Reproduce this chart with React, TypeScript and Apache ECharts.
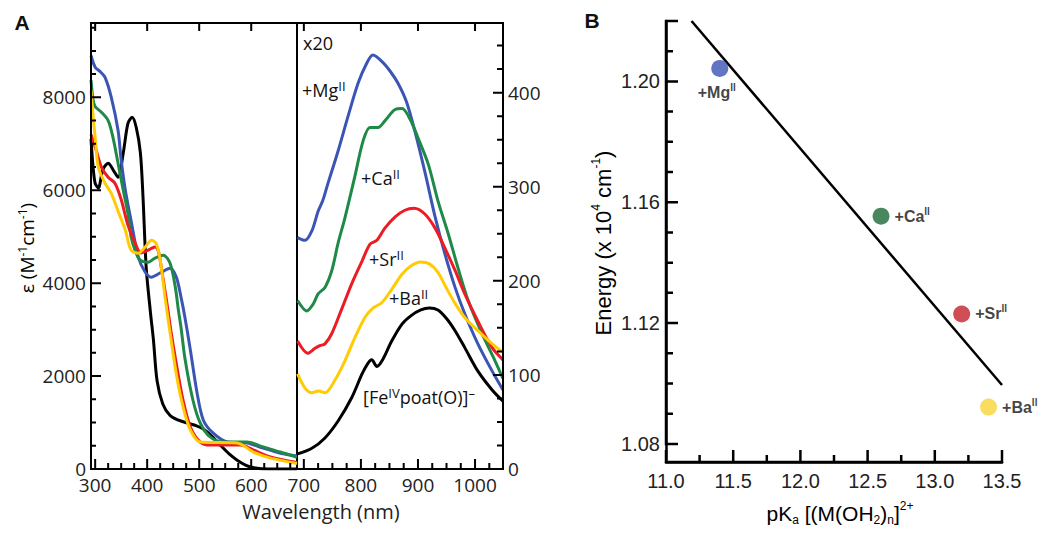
import React, { useEffect, useRef } from "react";
import * as echarts from "echarts";

// ---------- Panel A, left sub-plot (UV region), ε / M^-1 cm^-1 ----------
const UV_FE: [number, number][] = [
  [292, 7100], [296, 6500], [300, 6150], [306, 6050], [315, 6450], [325, 6580], [335, 6430],
  [344, 6280], [354, 6800], [363, 7440], [371, 7570], [379, 7350], [387, 6800], [392, 5850],
  [398, 4350], [406, 3400], [412, 2780], [419, 1900], [430, 1400], [444, 1150], [460, 1050],
  [477, 990], [495, 930], [508, 860], [525, 700], [540, 520], [557, 330], [573, 190],
  [590, 80], [605, 25], [620, 5], [650, 0], [688, 0],
];
const UV_MG: [number, number][] = [
  [292, 8900], [300, 8650], [310, 8550], [319, 8430], [331, 8000], [344, 7290], [350, 6650],
  [358, 6000], [369, 5350], [383, 4560], [396, 4240], [408, 4130], [425, 4220], [444, 4320],
  [456, 4130], [465, 3700], [472, 3300], [483, 2560], [496, 1630], [508, 1050], [527, 770],
  [554, 580], [592, 560], [623, 450], [656, 340], [688, 280],
];
const UV_CA: [number, number][] = [
  [292, 8370], [296, 7950], [300, 7800], [312, 7680], [325, 7500], [334, 7150], [344, 6580],
  [354, 6000], [363, 5500], [369, 5000], [377, 4700], [386, 4500], [402, 4450], [415, 4540],
  [431, 4600], [444, 4430], [454, 3920], [460, 3420], [465, 3050], [473, 2350], [488, 1480],
  [502, 990], [521, 690], [546, 580], [592, 580], [623, 475], [656, 365], [688, 250],
];
const UV_SR: [number, number][] = [
  [292, 7200], [302, 6860], [312, 6500], [325, 6280], [338, 6150], [350, 5800], [363, 5250],
  [377, 4860], [388, 4650], [402, 4710], [415, 4780], [421, 4710], [427, 4350], [437, 3640],
  [446, 2950], [457, 2200], [469, 1480], [483, 905], [502, 580], [521, 515], [579, 515],
  [604, 410], [637, 260], [688, 140],
];
const UV_BA: [number, number][] = [
  [292, 8150], [296, 7600], [300, 7140], [306, 6500], [319, 6150], [331, 5935], [344, 5550],
  [358, 5140], [369, 4710], [383, 4645], [396, 4775], [408, 4925], [417, 4860], [425, 4500],
  [435, 3640], [444, 2930], [457, 1980], [469, 1335], [483, 840], [502, 580], [573, 560],
  [604, 365], [637, 235], [688, 120],
];

// ---------- Panel A, right sub-plot (visible region, x20 scale) ----------
const VIS_FE: [number, number][] = [
  [689, 16], [714, 22], [737, 33], [760, 51], [784, 76], [802, 101], [812, 112], [819, 116],
  [828, 109], [837, 115], [854, 136], [872, 154], [888, 163], [905, 169], [920, 171],
  [935, 169], [950, 160], [965, 147], [982, 129], [1005, 104], [1030, 84], [1049, 72],
];
const VIS_MG: [number, number][] = [
  [689, 246], [702, 243], [714, 253], [725, 274], [733, 285], [742, 303], [760, 338],
  [777, 374], [795, 410], [810, 431], [821, 440], [837, 433], [851, 423], [865, 410],
  [880, 390], [895, 358], [912, 316], [930, 268], [947, 229], [965, 193], [982, 165],
  [1005, 133], [1030, 104], [1049, 84],
];
const VIS_CA: [number, number][] = [
  [689, 179], [705, 168], [716, 175], [725, 186], [737, 193], [749, 211], [760, 240],
  [772, 267], [789, 310], [804, 349], [816, 363], [830, 363], [842, 370], [860, 382],
  [872, 383], [886, 372], [900, 352], [918, 324], [935, 285], [953, 250], [970, 214],
  [988, 179], [1012, 144], [1035, 115], [1049, 96],
];
const VIS_SR: [number, number][] = [
  [689, 136], [707, 123], [719, 128], [728, 131], [737, 133], [749, 144], [767, 171],
  [784, 197], [802, 221], [816, 239], [828, 243], [842, 256], [860, 268], [877, 275],
  [893, 277], [912, 271], [930, 256], [947, 235], [965, 211], [982, 186], [1005, 157],
  [1030, 129], [1049, 116],
];
const VIS_BA: [number, number][] = [
  [689, 101], [702, 86], [714, 81], [725, 83], [737, 81], [754, 94], [772, 115], [789, 139],
  [807, 161], [821, 171], [837, 177], [854, 191], [872, 207], [888, 216], [905, 220],
  [920, 218], [935, 209], [950, 192], [965, 176], [982, 161], [1005, 147], [1030, 133],
  [1049, 124],
];

// ---------- Panel B ----------
const B_METALS = ["Mg", "Ca", "Sr", "Ba"];
const B_PKA = [11.4, 12.6, 13.2, 13.4];
const B_ENERGY = [1.2043, 1.1554, 1.123, 1.0922];
const B_COLORS = ["#3a52b4", "#1b6a37", "#c4202c", "#f8d43a"];
const FIT_X = [11.19, 13.5];
const FIT_Y = [1.22, 1.0995];

// ---------- Axis ranges & tick values ----------
const UV_X_RANGE = [292, 688];
const VIS_X_RANGE = [688, 1049];
const EPS_RANGE = [0, 9600];
const X20_RANGE = [0, 474];
const PKA_RANGE = [11, 13.5];
const E_RANGE = [1.074, 1.22];

const UV_X_MAJOR = [300, 400, 500, 600];
const UV_X_MINOR = [325, 350, 375, 425, 450, 475, 525, 550, 575, 625, 650, 675];
const VIS_X_MAJOR = [700, 800, 900, 1000];
const VIS_X_MINOR = [725, 750, 775, 825, 850, 875, 925, 950, 975, 1025];
const EPS_MAJOR = [0, 2000, 4000, 6000, 8000];
const EPS_MINOR = [500, 1000, 1500, 2500, 3000, 3500, 4500, 5000, 5500, 6500, 7000, 7500, 8500, 9000, 9500];
const X20_MAJOR = [0, 100, 200, 300, 400];
const X20_MINOR = [25, 50, 75, 125, 150, 175, 225, 250, 275, 325, 350, 375, 425, 450];
const PKA_MAJOR = [11, 11.5, 12, 12.5, 13, 13.5];
const PKA_MINOR = [11.25, 11.75, 12.25, 12.75, 13.25];
const E_LABELS = [1.08, 1.12, 1.16, 1.2];
const E_MAJOR = [1.08, 1.12, 1.16, 1.2, 1.22];
const E_MINOR = [1.09, 1.1, 1.11, 1.13, 1.14, 1.15, 1.17, 1.18, 1.19, 1.21];

const FONT_A = "'Open Sans', 'DejaVu Sans', sans-serif";
const FONT_B = "'Liberation Sans', Arial, sans-serif";

function axis(gridIndex: number, position: string, range: number[], labels: number[], labelOpts: any, axisLine?: any) {
  return {
    type: "value",
    gridIndex,
    position,
    min: range[0],
    max: range[1],
    axisLine: axisLine || { show: false },
    splitLine: { show: false },
    axisTick: { show: false },
    minorTick: { show: false },
    axisLabel: { show: true, customValues: labels, showMinLabel: true, showMaxLabel: true, ...labelOpts },
    axisPointer: { show: false },
  };
}

export default function App() {
  const ref = useRef<HTMLDivElement>(null);

  useEffect(() => {
    if (!ref.current) return;
    const chart = echarts.init(ref.current, undefined, { renderer: "svg" });

    const labA = { fontFamily: FONT_A, fontSize: 19, color: "#222", lineHeight: 18, formatter: (v: number) => String(v) };
    const labB = { fontFamily: FONT_B, fontSize: 20, color: "#222" };
    const bLine = { show: true, onZero: false, lineStyle: { color: "#000", width: 2.5 } };

    const xAxis = [
      axis(0, "bottom", UV_X_RANGE, UV_X_MAJOR, { ...labA, margin: 7 }),
      axis(1, "bottom", VIS_X_RANGE, VIS_X_MAJOR, { ...labA, margin: 7 }),
      axis(2, "bottom", PKA_RANGE, PKA_MAJOR, { ...labB, margin: 9, formatter: (v: number) => v.toFixed(1) }, bLine),
    ];
    const yAxis = [
      axis(0, "left", EPS_RANGE, EPS_MAJOR, { ...labA, margin: 5 }),
      axis(1, "right", X20_RANGE, X20_MAJOR, { ...labA, margin: 5 }),
      axis(2, "left", E_RANGE, E_LABELS, { ...labB, margin: 6, formatter: (v: number) => v.toFixed(2) }, bLine),
    ];

    const curve = (data: [number, number][], color: string, xi: number, yi: number) => ({
      type: "line",
      xAxisIndex: xi,
      yAxisIndex: yi,
      data,
      showSymbol: false,
      smooth: 0.3,
      silent: true,
      lineStyle: { color, width: 3 },
      z: 3,
    });

    const C_BLK = "#000000";
    const C_BLU = "#3a55b4";
    const C_GRN = "#1f8a47";
    const C_RED = "#ec1c24";
    const C_YEL = "#ffcb05";

    const supRich = (size: number, supSize: number, family: string, weight: string) => ({
      a: { fontSize: size, fontFamily: family, fontWeight: weight, color: "#111", lineHeight: size + 4 },
      s: { fontSize: supSize, fontFamily: family, fontWeight: weight, color: "#111", verticalAlign: "top", lineHeight: size + 4 },
    });

    const scatterData = B_METALS.map((m, i) => ({
      value: [B_PKA[i], B_ENERGY[i]],
      itemStyle: { color: B_COLORS[i] },
      label: {
        show: true,
        position: i === 0 ? "bottom" : "right",
        distance: i === 0 ? 6 : 5,
        offset: i === 0 ? [-3, 0] : [0, 0],
        formatter: `{a|+${m}}{s|II}`,
        rich: supRich(16, 10, FONT_B, "bold"),
      },
    }));

    const tA = (x: number, y: number, text: string) => ({
      type: "text",
      x,
      y,
      silent: true,
      style: {
        text,
        rich: supRich(18, 13, FONT_A, "normal"),
        fill: "#111",
        align: "left",
        verticalAlign: "middle",
      },
    });

    const baseGraphic: any[] = [
      { type: "text", x: 22, y: 22, silent: true, style: { text: "A", font: `bold 21px ${FONT_B}`, fill: "#111", align: "center", verticalAlign: "middle" } },
      { type: "text", x: 592, y: 20, silent: true, style: { text: "B", font: `bold 21px ${FONT_B}`, fill: "#111", align: "center", verticalAlign: "middle" } },
      tA(303, 43, "{a|x20}"),
      tA(302, 90, "{a|+Mg}{s|II}"),
      tA(361, 178, "{a|+Ca}{s|II}"),
      tA(369, 259, "{a|+Sr}{s|II}"),
      tA(389, 298, "{a|+Ba}{s|II}"),
      tA(363, 397, "{a|[Fe}{s|IV}{a|poat(O)]}{s|\u2013}"),
      {
        type: "text",
        x: 321,
        y: 511,
        silent: true,
        style: { text: "Wavelength (nm)", font: `20px ${FONT_A}`, fill: "#222", align: "center", verticalAlign: "middle" },
      },
      {
        type: "text",
        x: 27,
        y: 248,
        rotation: Math.PI / 2,
        silent: true,
        style: {
          text: "{a|\u03b5 (M}{s|-1}{a|cm}{s|-1}{a|)}",
          rich: {
            a: { fontSize: 19, fontFamily: FONT_A, color: "#222", lineHeight: 22 },
            s: { fontSize: 12, fontFamily: FONT_A, color: "#222", verticalAlign: "top", lineHeight: 22 },
          },
          align: "center",
          verticalAlign: "middle",
        },
      },
      {
        type: "text",
        x: 603,
        y: 243,
        rotation: Math.PI / 2,
        silent: true,
        style: {
          text: "{a|Energy (x 10}{s|4}{a| cm}{s|-1}{a|)}",
          rich: {
            a: { fontSize: 22, fontFamily: FONT_B, color: "#222", lineHeight: 26 },
            s: { fontSize: 12, fontFamily: FONT_B, color: "#222", verticalAlign: "top", lineHeight: 26 },
          },
          align: "center",
          verticalAlign: "middle",
        },
      },
      {
        type: "text",
        x: 840,
        y: 513,
        silent: true,
        style: {
          text: "{a|pK}{b|a}{a| [(M(OH}{b|2}{a|)}{b|n}{a|]}{s|2+}",
          rich: {
            a: { fontSize: 21, fontFamily: FONT_B, color: "#222", lineHeight: 26 },
            s: { fontSize: 12, fontFamily: FONT_B, color: "#222", verticalAlign: "top", lineHeight: 26 },
            b: { fontSize: 12, fontFamily: FONT_B, color: "#222", verticalAlign: "bottom", lineHeight: 26 },
          },
          align: "center",
          verticalAlign: "middle",
        },
      },
    ];

    chart.setOption({
      animation: false,
      backgroundColor: "#ffffff",
      grid: [
        { left: 91, top: 23, width: 206, height: 446, show: true, borderColor: "#000", borderWidth: 2, backgroundColor: "transparent" },
        { left: 297, top: 23, width: 206, height: 446, show: true, borderColor: "#000", borderWidth: 2, backgroundColor: "transparent" },
        { left: 666, top: 21, width: 336, height: 441 },
      ],
      xAxis,
      yAxis,
      series: [
        curve(UV_FE, C_BLK, 0, 0),
        curve(UV_MG, C_BLU, 0, 0),
        curve(UV_CA, C_GRN, 0, 0),
        curve(UV_SR, C_RED, 0, 0),
        curve(UV_BA, C_YEL, 0, 0),
        curve(VIS_FE, C_BLK, 1, 1),
        curve(VIS_MG, C_BLU, 1, 1),
        curve(VIS_CA, C_GRN, 1, 1),
        curve(VIS_SR, C_RED, 1, 1),
        curve(VIS_BA, C_YEL, 1, 1),
        {
          type: "line",
          xAxisIndex: 2,
          yAxisIndex: 2,
          data: FIT_X.map((x, i) => [x, FIT_Y[i]]),
          showSymbol: false,
          silent: true,
          lineStyle: { color: "#000", width: 2.5 },
        },
        {
          type: "scatter",
          xAxisIndex: 2,
          yAxisIndex: 2,
          symbol: "circle",
          symbolSize: 17,
          silent: true,
          data: scatterData,
          z: 4,
        },
      ],
      graphic: baseGraphic,
    });

    // ---- Tick combs: one polyline per axis side, through the axes' own scales ----
    const px = (g: number, v: [number, number]) => chart.convertToPixel({ gridIndex: g }, v) as number[];
    const combs: any[] = [];
    const comb = (
      g: number,
      dir: "x" | "y",
      base: number,
      major: number[],
      minor: number[],
      majLen: number,
      minLen: number,
      sign: number,
      w: number
    ) => {
      const all = [...major.map((v) => [v, majLen]), ...minor.map((v) => [v, minLen])].sort((a, b) => a[0] - b[0]);
      const pts: number[][] = [];
      all.forEach(([v, len]) => {
        const p = px(g, dir === "x" ? [v, base] : [base, v]);
        if (dir === "x") pts.push([p[0], p[1]], [p[0], p[1] + sign * len], [p[0], p[1]]);
        else pts.push([p[0], p[1]], [p[0] + sign * len, p[1]], [p[0], p[1]]);
      });
      combs.push({
        type: "polyline",
        silent: true,
        z: 50,
        shape: { points: pts },
        style: { stroke: "#000", lineWidth: w, fill: null },
      });
    };

    comb(0, "x", EPS_RANGE[0], UV_X_MAJOR, UV_X_MINOR, 10, 6, -1, 2);
    comb(0, "x", EPS_RANGE[1], UV_X_MAJOR, [], 8, 0, 1, 2);
    comb(0, "y", UV_X_RANGE[0], EPS_MAJOR, EPS_MINOR, 10, 5, 1, 2);
    comb(1, "x", X20_RANGE[0], VIS_X_MAJOR, VIS_X_MINOR, 10, 6, -1, 2);
    comb(1, "x", X20_RANGE[1], VIS_X_MAJOR, [], 8, 0, 1, 2);
    comb(1, "y", VIS_X_RANGE[1], X20_MAJOR, X20_MINOR, 10, 6, -1, 2);
    comb(2, "x", E_RANGE[0], PKA_MAJOR, PKA_MINOR, 12, 7, -1, 2.5);
    comb(2, "y", PKA_RANGE[0], E_MAJOR, E_MINOR, 12, 7, 1, 2.5);

    chart.setOption({ graphic: [...baseGraphic, ...combs] });

    return () => chart.dispose();
  }, []);

  return (
    <div
      ref={ref}
      style={{ position: "fixed", left: 0, top: 0, width: 1050, height: 533, background: "#fff" }}
    />
  );
}
